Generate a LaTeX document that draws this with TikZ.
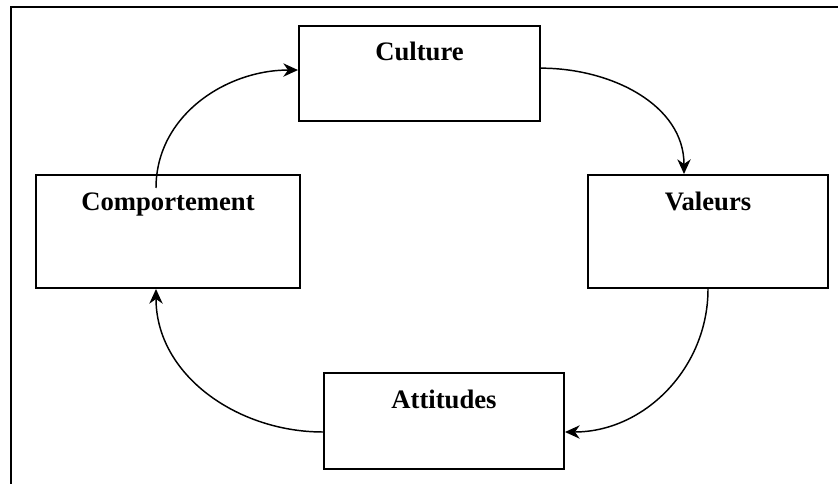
\documentclass[tikz,border=0pt]{standalone}
\usepackage{fontspec}
\setmainfont{Liberation Serif}
\usetikzlibrary{arrows.meta}
\begin{document}
\begin{tikzpicture}[x=0.75pt,y=-0.75pt,
  box/.style={draw,line width=1.5pt,rectangle,inner sep=0pt,anchor=north west,
    font=\fontsize{20pt}{24pt}\selectfont\bfseries},
  link/.style={line width=1.1pt,-{Stealth[length=11pt,width=10pt,inset=3.5pt]}}]
\useasboundingbox (0,0) rectangle (838,484);
\draw[line width=1.5pt] (11,484) -- (11,7) -- (838,7);
\node[box,minimum width=180.75pt,text height=26.25pt,text depth=45pt] (cult) at (298,25) {Culture};
\node[box,minimum width=198pt,text height=27pt,text depth=57.75pt] (comp) at (35,174) {Comportement};
\node[box,minimum width=180pt,text height=27pt,text depth=57.75pt] (val) at (587,174) {Valeurs};
\node[box,minimum width=180pt,text height=26.25pt,text depth=45.75pt] (att) at (323,372) {Attitudes};
\coordinate (s1) at ([xshift=-9pt,yshift=-10.5pt]comp.north);
\draw[link] (s1) to[out=90,in=180] ([yshift=2.6pt]cult.west);
\draw[link] ([yshift=4pt]cult.east) to[out=0,in=90] ([xshift=-18pt]val.north);
\draw[link] (val.south) to[out=-90,in=0] ([yshift=-8.25pt]att.east);
\draw[link] ([yshift=-8.25pt]att.west) to[out=180,in=-90] ([xshift=-9pt]comp.south);
\end{tikzpicture}
\end{document}
